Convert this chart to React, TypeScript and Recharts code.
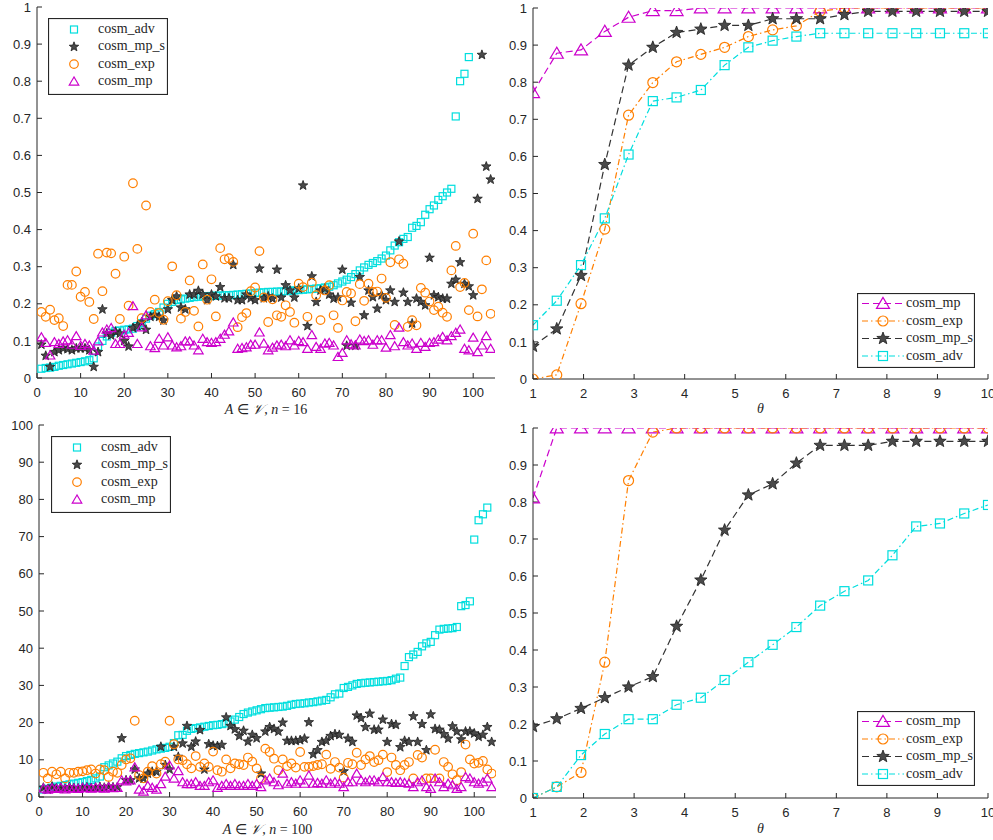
import React from 'react';
import { ScatterChart, Scatter, LineChart, Line, XAxis, YAxis, Legend } from 'recharts';

// ---------- data: top-left (n = 16) ----------
const tlAdv = [
  0.025, 0.027, 0.028, 0.03, 0.033, 0.035, 0.037, 0.039, 0.041, 0.043,
  0.045, 0.048, 0.053, 0.085, 0.1, 0.112, 0.122, 0.127, 0.128, 0.13,
  0.131, 0.133, 0.14, 0.148, 0.16, 0.168, 0.172, 0.178, 0.19, 0.2,
  0.205, 0.21, 0.212, 0.214, 0.216, 0.218, 0.219, 0.22, 0.22, 0.221,
  0.222, 0.222, 0.223, 0.223, 0.224, 0.225, 0.226, 0.227, 0.228, 0.229,
  0.23, 0.231, 0.232, 0.232, 0.233, 0.233, 0.234, 0.235, 0.236, 0.237,
  0.238, 0.239, 0.24, 0.241, 0.242, 0.244, 0.246, 0.25, 0.255, 0.26,
  0.265, 0.272, 0.28, 0.29, 0.298, 0.305, 0.31, 0.315, 0.322, 0.33,
  0.344, 0.357, 0.366, 0.375, 0.38, 0.405, 0.41, 0.42, 0.44, 0.455,
  0.465, 0.48, 0.49, 0.5, 0.51, 0.705, 0.8, 0.82, 0.865,
];
const tlMpS = [
  0.09, 0.06, 0.03, 0.07, 0.075, 0.08, 0.078, 0.075, 0.08, 0.08,
  0.08, 0.075, 0.03, 0.07, 0.185, 0.12, 0.115, 0.125, 0.12, 0.1,
  0.085, 0.135, 0.14, 0.15, 0.13, 0.165, 0.17, 0.165, 0.155, 0.185,
  0.21, 0.22, 0.19, 0.185, 0.225, 0.225, 0.235, 0.225, 0.21, 0.225,
  0.22, 0.245, 0.215, 0.215, 0.305, 0.21, 0.21, 0.225, 0.215, 0.21,
  0.295, 0.215, 0.22, 0.214, 0.292, 0.217, 0.25, 0.236, 0.217, 0.241,
  0.519, 0.14, 0.274, 0.205, 0.236, 0.241, 0.225, 0.214, 0.217, 0.292,
  0.087, 0.203, 0.087, 0.272, 0.169, 0.236, 0.218, 0.187, 0.223, 0.21,
  0.236, 0.205, 0.368, 0.23, 0.205, 0.147, 0.214, 0.205, 0.196, 0.324,
  0.223, 0.218, 0.214, 0.214, 0.254, 0.265, 0.312, 0.254, 0.247, 0.223,
  0.483, 0.871, 0.57, 0.535,
];
const tlExp = [
  0.178, 0.165, 0.184, 0.156, 0.161, 0.14, 0.251, 0.251, 0.287, 0.219,
  0.232, 0.205, 0.159, 0.335, 0.234, 0.338, 0.336, 0.281, 0.159, 0.327,
  0.195, 0.525, 0.348, 0.161, 0.465, 0.178, 0.211, 0.175, 0.157, 0.207,
  0.301, 0.223, 0.16, 0.178, 0.263, 0.181, 0.139, 0.306, 0.211, 0.266,
  0.166, 0.35, 0.32, 0.323, 0.313, 0.137, 0.164, 0.175, 0.234, 0.244,
  0.342, 0.217, 0.151, 0.212, 0.169, 0.165, 0.196, 0.178, 0.149, 0.254,
  0.245, 0.165, 0.257, 0.223, 0.156, 0.236, 0.25, 0.169, 0.135, 0.209,
  0.232, 0.228, 0.153, 0.253, 0.208, 0.254, 0.232, 0.233, 0.268, 0.216,
  0.312, 0.143, 0.32, 0.308, 0.138, 0.156, 0.142, 0.243, 0.23, 0.206,
  0.183, 0.192, 0.176, 0.165, 0.29, 0.356, 0.245, 0.256, 0.183, 0.389,
  0.166, 0.239, 0.317, 0.173,
];
const tlMp = [
  0.11, 0.095, 0.061, 0.097, 0.092, 0.099, 0.102, 0.09, 0.113, 0.087,
  0.092, 0.088, 0.074, 0.099, 0.123, 0.131, 0.135, 0.092, 0.092, 0.117,
  0.122, 0.194, 0.092, 0.137, 0.169, 0.086, 0.081, 0.106, 0.088, 0.11,
  0.088, 0.083, 0.086, 0.099, 0.099, 0.088, 0.075, 0.106, 0.097, 0.095,
  0.097, 0.106, 0.117, 0.126, 0.15, 0.079, 0.081, 0.083, 0.09, 0.09,
  0.123, 0.093, 0.075, 0.082, 0.088, 0.09, 0.086, 0.102, 0.088, 0.1,
  0.097, 0.079, 0.116, 0.084, 0.079, 0.093, 0.095, 0.088, 0.057, 0.068,
  0.102, 0.091, 0.088, 0.104, 0.1, 0.102, 0.09, 0.102, 0.102, 0.082,
  0.116, 0.086, 0.136, 0.097, 0.088, 0.093, 0.079, 0.095, 0.084, 0.095,
  0.097, 0.104, 0.111, 0.102, 0.113, 0.122, 0.131, 0.079, 0.075, 0.109,
  0.07, 0.088, 0.113, 0.079,
];

// ---------- data: bottom-left (n = 100) ----------
const blAdv = [
  2, 2.2, 2.5, 2.8, 3, 3.2, 3.4, 3.6, 3.8, 4,
  4.3, 4.6, 5, 5.5, 8, 8.5, 9, 9.5, 10.4, 11,
  11.3, 11.6, 11.8, 12, 12.2, 12.5, 12.8, 13, 13.2, 13.5,
  14.5, 16.6, 16.7, 17.8, 18.3, 18.5, 18.7, 18.9, 19.1, 19.3,
  19.4, 19.6, 19.8, 20.3, 20.8, 21.5, 22.3, 22.7, 23, 23.3,
  23.6, 23.9, 24, 24.1, 24.2, 24.3, 24.5, 24.8, 25, 25.1,
  25.2, 25.4, 25.5, 25.7, 25.9, 26.1, 26.8, 27.6, 27.8, 29.3,
  29.6, 30, 30.4, 30.6, 30.7, 30.8, 30.9, 31, 31.1, 31.2,
  31.4, 31.8, 32.1, 35.2, 37.6, 38.3, 39, 40.5, 41.3, 41.7,
  43.5, 45, 45.2, 45.3, 45.4, 45.7, 51.3, 51.6, 52.6, 69.2,
  74.4, 76, 77.8,
];
const blMpS = [
  2.5, 2.0, 2.8, 2.3, 2.5, 2.2, 2.6, 2.4, 2.3, 2.5,
  2.6, 2.4, 2.5, 2.7, 2.5, 2.8, 2.6, 2.7, 15.8, 4.5,
  4.5, 7.4, 5, 5, 6.3, 6.8, 6.8, 13.5, 8.6, 7.4,
  13.5, 10.8, 14.4, 19.1, 13.5, 14.9, 18, 7.4, 14.2, 13.8,
  13.7, 14, 21.4, 19.1, 18.2, 16.4, 17.8, 14.9, 16.7, 15.8,
  6.3, 17.6, 18.8, 18.3, 17.6, 20, 15.1, 15.1, 15.1, 15.3,
  15.7, 20.1, 11.5, 12.6, 14.8, 15.1, 16.4, 16.9, 16.7, 6.9,
  15.7, 14.8, 21.9, 21.2, 18.8, 22.4, 18.1, 18.1, 20.8, 14.8,
  19.6, 19.4, 13.4, 15.1, 14.8, 21.7, 14.8, 19.6, 12.6, 22.2,
  18.3, 18.1, 16.9, 15.7, 19, 17.6, 15.5, 17.6, 17.6, 17.1,
  16.2, 16.7, 18.8, 14.8,
];
const blExp = [
  6.5, 5, 6.8, 6.1, 6.8, 5, 6.5, 6.5, 6.8, 6.9,
  7.2, 7.4, 6.3, 7.4, 7.2, 5.4, 6.8, 6.5, 8.6, 10.1,
  10.4, 20.5, 5.9, 5, 6.8, 8.3, 6.3, 8.8, 9.5, 20.5,
  14.2, 10.1, 9.9, 8.8, 7.7, 11, 8.1, 9, 8.1, 12.2,
  7.2, 6.8, 10.1, 7.7, 9, 8.8, 8.6, 10.6, 9.5, 7.7,
  5, 13, 12.1, 10.3, 7.2, 10.1, 8.3, 9, 7.9, 12.1,
  8.1, 8.1, 8.3, 8.6, 8.8, 11.4, 7.6, 9.4, 7.9, 5.2,
  9.2, 8.8, 11.9, 8.6, 10.1, 11, 9.4, 9.9, 11.4, 6.7,
  10.6, 8.6, 7.2, 8.6, 9.4, 5, 11.3, 10.6, 5, 5,
  12.7, 5, 9.4, 8.1, 6.1, 4.5, 6.7, 14.1, 10.1, 9,
  9.2, 9.7, 7.4, 6.3,
];
const blMp = [
  2.3, 2.0, 2.4, 2.2, 2.5, 2.1, 2.4, 2.3, 2.2, 2.5,
  2.4, 2.3, 2.5, 2.4, 2.3, 2.6, 2.4, 2.5, 4.5, 4.2,
  4.5, 8, 2, 1.5, 3, 2.5, 2, 3.5, 5.5, 8.5,
  5, 7, 4, 3.5, 3.5, 4, 3, 3, 4, 4.5,
  2.5, 3, 3.5, 3, 3.5, 3, 3, 3.5, 3, 3.5,
  2.7, 4.5, 5, 4, 3.2, 6.3, 3.6, 4, 3.6, 4.5,
  3.6, 5.8, 3.6, 3.8, 3.6, 4.5, 3.6, 4, 3.6, 2.7,
  4, 4, 6.3, 4.5, 4, 4.5, 4.5, 4, 5.4, 4,
  4, 3.8, 4, 3.8, 3.6, 2.7, 4, 4.5, 2.7, 2.2,
  5, 4, 2.7, 3.6, 3.2, 2.2, 2.7, 5.4, 5, 4,
  3.6, 4, 5, 2.7,
];

// ---------- data: right panels (theta sweep) ----------
const theta = [1, 1.47, 1.95, 2.42, 2.89, 3.37, 3.84, 4.32, 4.79, 5.26, 5.74, 6.21, 6.68, 7.16, 7.63, 8.11, 8.58, 9.05, 9.53, 10];
const trMp = [0.772, 0.878, 0.887, 0.937, 0.975, 0.993, 0.993, 1, 1, 1, 1, 1, 1, 1, 1, 1, 1, 1, 1, 1];
const trExp = [0, 0.011, 0.203, 0.404, 0.711, 0.799, 0.855, 0.875, 0.894, 0.923, 0.941, 0.952, 0.991, 1, 1, 1, 1, 1, 1, 1];
const trMpS = [0.088, 0.135, 0.279, 0.578, 0.846, 0.894, 0.934, 0.943, 0.953, 0.953, 0.971, 0.971, 0.971, 0.982, 0.991, 0.991, 0.991, 0.991, 0.991, 0.991];
const trAdv = [0.145, 0.211, 0.307, 0.433, 0.605, 0.749, 0.759, 0.779, 0.846, 0.894, 0.912, 0.923, 0.932, 0.932, 0.932, 0.932, 0.932, 0.932, 0.932, 0.932];
const brMp = [0.811, 1, 1, 1, 1, 1, 1, 1, 1, 1, 1, 1, 1, 1, 1, 1, 1, 1, 1, 1];
const brExp = [0, 0.03, 0.069, 0.367, 0.858, 0.989, 1, 1, 1, 1, 1, 1, 1, 1, 1, 1, 1, 1, 1, 1];
const brMpS = [0.193, 0.214, 0.242, 0.271, 0.3, 0.328, 0.464, 0.589, 0.724, 0.819, 0.849, 0.905, 0.953, 0.953, 0.953, 0.964, 0.964, 0.964, 0.964, 0.964];
const brAdv = [0, 0.03, 0.116, 0.173, 0.213, 0.213, 0.252, 0.271, 0.319, 0.367, 0.414, 0.462, 0.52, 0.559, 0.588, 0.656, 0.734, 0.742, 0.769, 0.792];

// ---------- tick labels ----------
const idxTicks = [0, 10, 20, 30, 40, 50, 60, 70, 80, 90, 100];
const unitTicks = [0, 0.1, 0.2, 0.3, 0.4, 0.5, 0.6, 0.7, 0.8, 0.9, 1];
const pctTicks = [0, 10, 20, 30, 40, 50, 60, 70, 80, 90, 100];
const thetaTicks = [1, 2, 3, 4, 5, 6, 7, 8, 9, 10];

// ---------- styling ----------
const AX = '#262626';
const C_ADV = '#00dede';
const C_MPS_FILL = '#4a4a4a';
const C_MPS_EDGE = '#1e1e1e';
const C_EXP = '#ff7f00';
const C_MP = '#cc00cc';
const SANS = "'Liberation Sans', Arial, Helvetica, sans-serif";
const SERIF = "'Liberation Serif', 'Times New Roman', serif";

type MK = 'sq' | 'star' | 'circ' | 'tri';

function starPts(cx: number, cy: number, R: number) {
  const pts: string[] = [];
  for (let i = 0; i < 10; i++) {
    const rad = i % 2 === 0 ? R : R * 0.42;
    const a = -Math.PI / 2 + (i * Math.PI) / 5;
    pts.push(`${(cx + rad * Math.cos(a)).toFixed(2)},${(cy + rad * Math.sin(a)).toFixed(2)}`);
  }
  return pts.join(' ');
}

function Marker({ kind, cx, cy, big }: { kind: MK; cx: number; cy: number; big?: boolean }) {
  if (cx == null || cy == null || isNaN(cx) || isNaN(cy)) return null;
  if (kind === 'sq') {
    const s = big ? 9 : 7;
    return <rect x={cx - s / 2} y={cy - s / 2} width={s} height={s} fill="none" stroke={C_ADV} strokeWidth={1.2} />;
  }
  if (kind === 'circ') {
    return <circle cx={cx} cy={cy} r={big ? 5 : 4.3} fill="none" stroke={C_EXP} strokeWidth={1.2} />;
  }
  if (kind === 'tri') {
    const w = big ? 13 : 9.5;
    const h = w * 0.85;
    const p = `${cx},${cy - h * 0.55} ${cx - w / 2},${cy + h * 0.45} ${cx + w / 2},${cy + h * 0.45}`;
    return <polygon points={p} fill="none" stroke={C_MP} strokeWidth={1.2} />;
  }
  return <polygon points={starPts(cx, cy, big ? 6.5 : 5)} fill={C_MPS_FILL} stroke={C_MPS_EDGE} strokeWidth={0.8} />;
}

const shapeOf = (kind: MK, big?: boolean) => (p: any) => <Marker kind={kind} cx={p.cx} cy={p.cy} big={big} />;
const dotOf = (kind: MK) => (p: any) => <Marker key={`d${kind}${p.index}`} kind={kind} cx={p.cx} cy={p.cy} big />;

const toPts = (arr: number[]) => arr.map((y, i) => ({ x: i + 1, y }));

const tickStyle = { fill: AX, fontSize: 13, fontFamily: SANS };

// x-axis labels
const xLabelA = (n: string) => (props: any) => {
  const vb = props.viewBox || {};
  return (
    <text x={vb.x + vb.width / 2} y={vb.y + vb.height - 6} textAnchor="middle" fontFamily={SERIF} fontSize={14} fill={AX}>
      <tspan fontStyle="italic">A</tspan>
      <tspan> ∈ </tspan>
      <tspan fontStyle="italic">𝒱</tspan>
      <tspan>,  </tspan>
      <tspan fontStyle="italic">n</tspan>
      <tspan>{` = ${n}`}</tspan>
    </text>
  );
};
const xLabelTheta = (props: any) => {
  const vb = props.viewBox || {};
  return (
    <text x={vb.x + vb.width / 2} y={vb.y + vb.height - 7} textAnchor="middle" fontFamily={SERIF} fontStyle="italic" fontSize={14} fill={AX}>
      θ
    </text>
  );
};

// legends
const scatterRows: { name: string; kind: MK }[] = [
  { name: 'cosm_adv', kind: 'sq' },
  { name: 'cosm_mp_s', kind: 'star' },
  { name: 'cosm_exp', kind: 'circ' },
  { name: 'cosm_mp', kind: 'tri' },
];
const lineRows: { name: string; kind: MK; color: string; dash: string }[] = [
  { name: 'cosm_mp', kind: 'tri', color: C_MP, dash: '7 4' },
  { name: 'cosm_exp', kind: 'circ', color: C_EXP, dash: '6 3 1.5 3' },
  { name: 'cosm_mp_s', kind: 'star', color: '#333333', dash: '7 4' },
  { name: 'cosm_adv', kind: 'sq', color: C_ADV, dash: '6 3 1.5 3' },
];

const ScatterLegendBox = () => (
  <svg width={120} height={77} style={{ display: 'block' }}>
    <rect x={0.5} y={0.5} width={119} height={76} fill="#fff" stroke={AX} strokeWidth={1.2} />
    {scatterRows.map((r, i) => {
      const cy = 11.5 + i * 17.3;
      return (
        <g key={r.name}>
          <Marker kind={r.kind} cx={26} cy={cy} />
          <text x={50} y={cy + 3.5} fontFamily={SERIF} fontSize={14} fill={AX}>{r.name}</text>
        </g>
      );
    })}
  </svg>
);

const LineLegendBox = () => (
  <svg width={118} height={75} style={{ display: 'block' }}>
    <rect x={0.5} y={0.5} width={117} height={74} fill="#fff" stroke={AX} strokeWidth={1.2} />
    {lineRows.map((r, i) => {
      const cy = 10.5 + i * 17.5;
      return (
        <g key={r.name}>
          <line x1={5} y1={cy} x2={47} y2={cy} stroke={r.color} strokeWidth={1.2} strokeDasharray={r.dash} />
          <Marker kind={r.kind} cx={26} cy={cy} big />
          <text x={49} y={cy + 3.5} fontFamily={SERIF} fontSize={14} fill={AX}>{r.name}</text>
        </g>
      );
    })}
  </svg>
);

function frame(
  xDomain: number[], xTicks: number[], yDomain: number[], yTicks: number[],
  yWidth: number, xHeight: number, label: any, yKey?: string,
) {
  const common = {
    interval: 0 as const,
    tickSize: -5,
    axisLine: { stroke: AX, strokeWidth: 1 },
    tickLine: { stroke: AX, strokeWidth: 1 },
    allowDataOverflow: true,
  };
  return [
    <XAxis key="xb" type="number" dataKey="x" domain={xDomain} ticks={xTicks} height={xHeight} tickMargin={15} tick={tickStyle} label={label} {...common} />,
    <XAxis key="xt" xAxisId="top" orientation="top" type="number" dataKey="x" domain={xDomain} ticks={xTicks} height={0} tick={false} {...common} />,
    <YAxis key="yl" type="number" dataKey={yKey} domain={yDomain} ticks={yTicks} width={yWidth} tickMargin={11} tick={tickStyle} {...common} />,
    <YAxis key="yr" yAxisId="right" orientation="right" type="number" domain={yDomain} ticks={yTicks} width={0} tick={false} {...common} />,
  ];
}

const trTable = theta.map((x, i) => ({ x, mp: trMp[i], exp: trExp[i], mps: trMpS[i], adv: trAdv[i] }));
const brTable = theta.map((x, i) => ({ x, mp: brMp[i], exp: brExp[i], mps: brMpS[i], adv: brAdv[i] }));

const lineSeries = () => [
  <Line key="mp" dataKey="mp" stroke={C_MP} strokeWidth={1.2} strokeDasharray="7 4" dot={dotOf('tri')} activeDot={false} isAnimationActive={false} />,
  <Line key="exp" dataKey="exp" stroke={C_EXP} strokeWidth={1.2} strokeDasharray="6 3 1.5 3" dot={dotOf('circ')} activeDot={false} isAnimationActive={false} />,
  <Line key="mps" dataKey="mps" stroke="#333333" strokeWidth={1.2} strokeDasharray="7 4" dot={dotOf('star')} activeDot={false} isAnimationActive={false} />,
  <Line key="adv" dataKey="adv" stroke={C_ADV} strokeWidth={1.2} strokeDasharray="6 3 1.5 3" dot={dotOf('sq')} activeDot={false} isAnimationActive={false} />,
];

export default function App() {
  return (
    <div style={{ position: 'absolute', left: 0, top: 0, width: 993, height: 840, background: '#fff', overflow: 'hidden' }}>
      {/* top-left */}
      <div style={{ position: 'absolute', left: 0, top: 0 }}>
        <ScatterChart width={500} height={420} margin={{ top: 7, right: 5, bottom: 0, left: 0 }}>
          {frame([0, 105], idxTicks, [0, 1], unitTicks, 37, 42, xLabelA('16'), 'y')}
          <Scatter data={toPts(tlAdv)} shape={shapeOf('sq')} isAnimationActive={false} />
          <Scatter data={toPts(tlMpS)} shape={shapeOf('star')} isAnimationActive={false} />
          <Scatter data={toPts(tlExp)} shape={shapeOf('circ')} isAnimationActive={false} />
          <Scatter data={toPts(tlMp)} shape={shapeOf('tri')} isAnimationActive={false} />
          <Legend layout="vertical" align="center" verticalAlign="middle" content={() => <ScatterLegendBox />}
            wrapperStyle={{ position: 'absolute', left: 48, top: 18, width: 120, height: 77 }} />
        </ScatterChart>
      </div>
      {/* top-right */}
      <div style={{ position: 'absolute', left: 497, top: 0 }}>
        <LineChart width={496} height={420} data={trTable} margin={{ top: 8, right: 5, bottom: 0, left: 0 }}>
          {frame([1, 10], thetaTicks, [0, 1], unitTicks, 36, 41, xLabelTheta)}
          {lineSeries()}
          <Legend layout="vertical" align="center" verticalAlign="middle" content={() => <LineLegendBox />}
            wrapperStyle={{ position: 'absolute', left: 360, top: 293, width: 118, height: 75 }} />
        </LineChart>
      </div>
      {/* bottom-left */}
      <div style={{ position: 'absolute', left: 0, top: 410 }}>
        <ScatterChart width={500} height={430} margin={{ top: 15, right: 4, bottom: 0, left: 0 }}>
          {frame([0, 105], idxTicks, [0, 100], pctTicks, 39, 43, xLabelA('100'), 'y')}
          <Scatter data={toPts(blAdv)} shape={shapeOf('sq')} isAnimationActive={false} />
          <Scatter data={toPts(blMpS)} shape={shapeOf('star')} isAnimationActive={false} />
          <Scatter data={toPts(blExp)} shape={shapeOf('circ')} isAnimationActive={false} />
          <Scatter data={toPts(blMp)} shape={shapeOf('tri')} isAnimationActive={false} />
          <Legend layout="vertical" align="center" verticalAlign="middle" content={() => <ScatterLegendBox />}
            wrapperStyle={{ position: 'absolute', left: 51, top: 26, width: 120, height: 77 }} />
        </ScatterChart>
      </div>
      {/* bottom-right */}
      <div style={{ position: 'absolute', left: 497, top: 420 }}>
        <LineChart width={496} height={420} data={brTable} margin={{ top: 8, right: 5, bottom: 0, left: 0 }}>
          {frame([1, 10], thetaTicks, [0, 1], unitTicks, 36, 42, xLabelTheta)}
          {lineSeries()}
          <Legend layout="vertical" align="center" verticalAlign="middle" content={() => <LineLegendBox />}
            wrapperStyle={{ position: 'absolute', left: 360, top: 291, width: 118, height: 75 }} />
        </LineChart>
      </div>
    </div>
  );
}
